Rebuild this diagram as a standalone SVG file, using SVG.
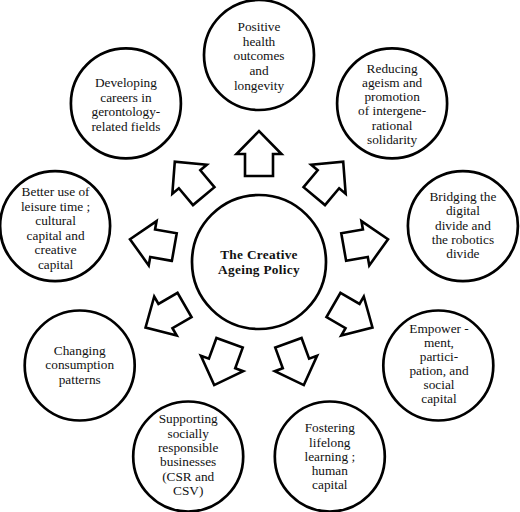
<svg xmlns="http://www.w3.org/2000/svg" width="520" height="512" viewBox="0 0 520 512">
<style>
.c{fill:#fff;stroke:#000;stroke-width:2.7}
.a{fill:#fff;stroke:#000;stroke-width:2.6;stroke-linejoin:miter}
.t{font-family:"Liberation Serif","Times New Roman",serif;font-size:13.3px;fill:#111;text-anchor:middle}
.b{font-weight:bold;letter-spacing:0.3px}
</style>
<defs>
<path id="arr" d="M86,-14 L108,-14 L108,-22.5 L131,0 L108,22.5 L108,14 L86,14 Z"/>
</defs>
<rect width="520" height="512" fill="#fff"/>
<g id="connectors">
<use href="#arr" class="a" transform="translate(259,262) rotate(-90)"/>
<use href="#arr" class="a" transform="translate(259,262) rotate(-50)"/>
<use href="#arr" class="a" transform="translate(259,262) rotate(-10)"/>
<use href="#arr" class="a" transform="translate(259,262) rotate(30)"/>
<use href="#arr" class="a" transform="translate(259,262) rotate(70)"/>
<use href="#arr" class="a" transform="translate(259,262) rotate(110)"/>
<use href="#arr" class="a" transform="translate(259,262) rotate(150)"/>
<use href="#arr" class="a" transform="translate(259,262) rotate(190)"/>
<use href="#arr" class="a" transform="translate(259,262) rotate(230)"/>
</g>
<g id="center">
<circle class="c" cx="259" cy="262" r="67"/>
<text class="t b" x="259" y="259.3">The Creative<tspan x="259" dy="14.7">Ageing Policy</tspan></text>
</g>
<g id="health">
<circle class="c" cx="259" cy="55" r="55"/>
<text class="t" x="259" y="31">Positive<tspan x="259" dy="14.7">health</tspan><tspan x="259" dy="14.7">outcomes</tspan><tspan x="259" dy="14.7">and</tspan><tspan x="259" dy="14.7">longevity</tspan></text>
</g>
<g id="ageism">
<circle class="c" cx="392.1" cy="103.4" r="55"/>
<text class="t" x="392.1" y="72.5">Reducing<tspan x="392.1" dy="14.3">ageism and</tspan><tspan x="392.1" dy="14.3">promotion</tspan><tspan x="392.1" dy="14.3">of intergene-</tspan><tspan x="392.1" dy="14.3">rational</tspan><tspan x="392.1" dy="14.3">solidarity</tspan></text>
</g>
<g id="digital">
<circle class="c" cx="462.9" cy="226.1" r="55"/>
<text class="t" x="462.9" y="200.7">Bridging the<tspan x="462.9" dy="14.4">digital</tspan><tspan x="462.9" dy="14.4">divide and</tspan><tspan x="462.9" dy="14.4">the robotics</tspan><tspan x="462.9" dy="14.4">divide</tspan></text>
</g>
<g id="empowerment">
<circle class="c" cx="438.3" cy="365.5" r="55"/>
<text class="t" x="439" y="332.7">Empower -<tspan x="439" dy="14.1">ment,</tspan><tspan x="439" dy="14.1">partici-</tspan><tspan x="439" dy="14.1">pation, and</tspan><tspan x="439" dy="14.1">social</tspan><tspan x="439" dy="14.1">capital</tspan></text>
</g>
<g id="learning">
<circle class="c" cx="329.8" cy="456.5" r="55"/>
<text class="t" x="329.8" y="432.2">Fostering<tspan x="329.8" dy="14.3">lifelong</tspan><tspan x="329.8" dy="14.3">learning ;</tspan><tspan x="329.8" dy="14.3">human</tspan><tspan x="329.8" dy="14.3">capital</tspan></text>
</g>
<g id="business">
<circle class="c" cx="188.2" cy="456.5" r="55"/>
<text class="t" x="188.2" y="423.3">Supporting<tspan x="188.2" dy="14.3">socially</tspan><tspan x="188.2" dy="14.3">responsible</tspan><tspan x="188.2" dy="14.3">businesses</tspan><tspan x="188.2" dy="14.3">(CSR and</tspan><tspan x="188.2" dy="14.3">CSV)</tspan></text>
</g>
<g id="consumption">
<circle class="c" cx="79.7" cy="365.5" r="55"/>
<text class="t" x="79.7" y="354.8">Changing<tspan x="79.7" dy="14.4">consumption</tspan><tspan x="79.7" dy="14.4">patterns</tspan></text>
</g>
<g id="leisure">
<circle class="c" cx="55.1" cy="226.1" r="55"/>
<text class="t" x="55.6" y="196">Better use of<tspan x="55.6" dy="14.5">leisure time ;</tspan><tspan x="55.6" dy="14.5">cultural</tspan><tspan x="55.6" dy="14.5">capital and</tspan><tspan x="55.6" dy="14.5">creative</tspan><tspan x="55.6" dy="14.5">capital</tspan></text>
</g>
<g id="careers">
<circle class="c" cx="125.9" cy="103.4" r="55"/>
<text class="t" x="125.9" y="87">Developing<tspan x="125.9" dy="14.6">careers in</tspan><tspan x="125.9" dy="14.6">gerontology-</tspan><tspan x="125.9" dy="14.6">related fields</tspan></text>
</g>
</svg>
